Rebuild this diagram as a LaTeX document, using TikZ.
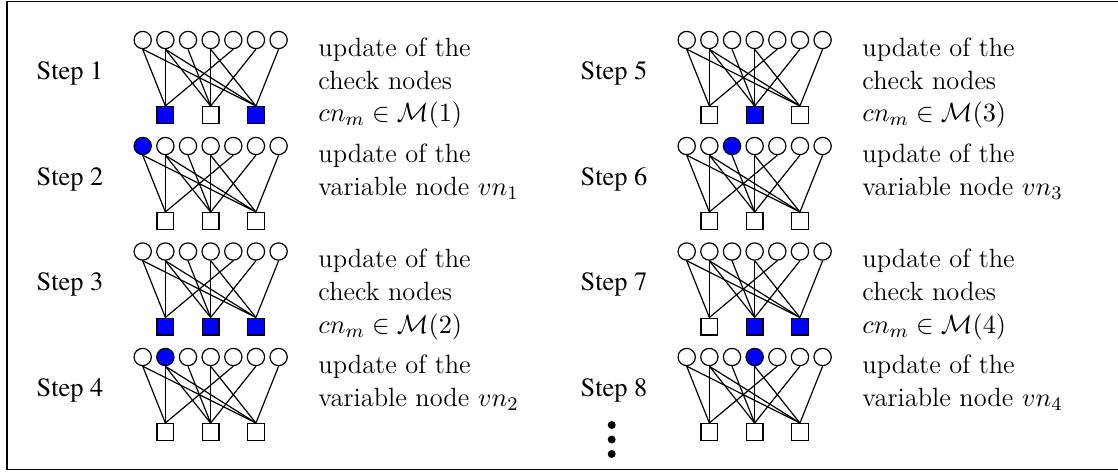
\documentclass[tikz,border=0pt]{standalone}
\usepackage[T1,TU]{fontenc}
\usepackage{amssymb}
\usepackage{amsmath}
\newcommand\stepfont{\fontencoding{T1}\fontfamily{ptm}\selectfont}
\colorlet{mark0}{white}
\colorlet{mark1}{blue}
\tikzset{
  vnode/.style={draw,circle,minimum size=7.2pt,inner sep=0pt,line width=0.5pt},
  cnode/.style={draw,rectangle,minimum size=7pt,inner sep=0pt,line width=0.5pt},
  edge/.style={line width=0.5pt},
  steplabel/.style={font=\fontsize{11}{13}\stepfont},
  note/.style={align=left,anchor=north west,inner sep=0pt,font=\fontsize{11}{13.6}\selectfont},
  bigdot/.style={circle,fill=black,minimum size=3.3pt,inner sep=0pt},
}

\begin{document}
\begin{tikzpicture}[x=0.41667pt,y=-0.41667pt]
\useasboundingbox (0,0) rectangle (1118,471);
\draw[line width=0.6pt] (7,1.5) rectangle (1140,469.5);

\foreach \s/\gx/\gy/\vb/\ca/\cb/\cc/\txt in {
  1/0/40/0/1/0/1/{update of the\\check nodes\\$cn_m \in \mathcal{M}(1)$},
  2/0/146/1/0/0/0/{update of the\\variable node $vn_1$},
  3/0/251.5/0/1/1/1/{update of the\\check nodes\\$cn_m \in \mathcal{M}(2)$},
  4/0/357/2/0/0/0/{update of the\\variable node $vn_2$},
  5/544/40/0/0/1/0/{update of the\\check nodes\\$cn_m \in \mathcal{M}(3)$},
  6/544/146/3/0/0/0/{update of the\\variable node $vn_3$},
  7/544/251.5/0/0/1/1/{update of the\\check nodes\\$cn_m \in \mathcal{M}(4)$},
  8/544/357/4/0/0/0/{update of the\\variable node $vn_4$}}
{
  \node[steplabel] (step\s) at (70+\gx,\gy+33) {Step \s};
  \node[note] (note\s) at (318+\gx,\gy-2.6) {\txt};
  % variable nodes
  \foreach \i in {1,...,7} {
    \pgfmathtruncatemacro\on{\i==\vb}
    \node[vnode,fill=mark\on] (v\s-\i) at ({142.7+22.65*(\i-1)+\gx},\gy) {};
  }
  % check nodes
  \foreach \j/\on in {1/\ca,2/\cb,3/\cc} {
    \node[cnode,fill=mark\on] (c\s-\j) at ({142.7+22.65*(2*\j-1)+\gx},\gy+75) {};
  }
  \foreach \a/\b in {1/1,1/3,2/1,2/2,2/3,3/2,4/2,4/3,5/1,6/2,7/3}
    \draw[edge] (v\s-\a.south) -- (c\s-\b.north);
}

\node[bigdot] (dot1) at (611.7,425) {};
\node[bigdot] (dot2) at (611.7,439.5) {};
\node[bigdot] (dot3) at (611.7,454) {};
\end{tikzpicture}
\end{document}
